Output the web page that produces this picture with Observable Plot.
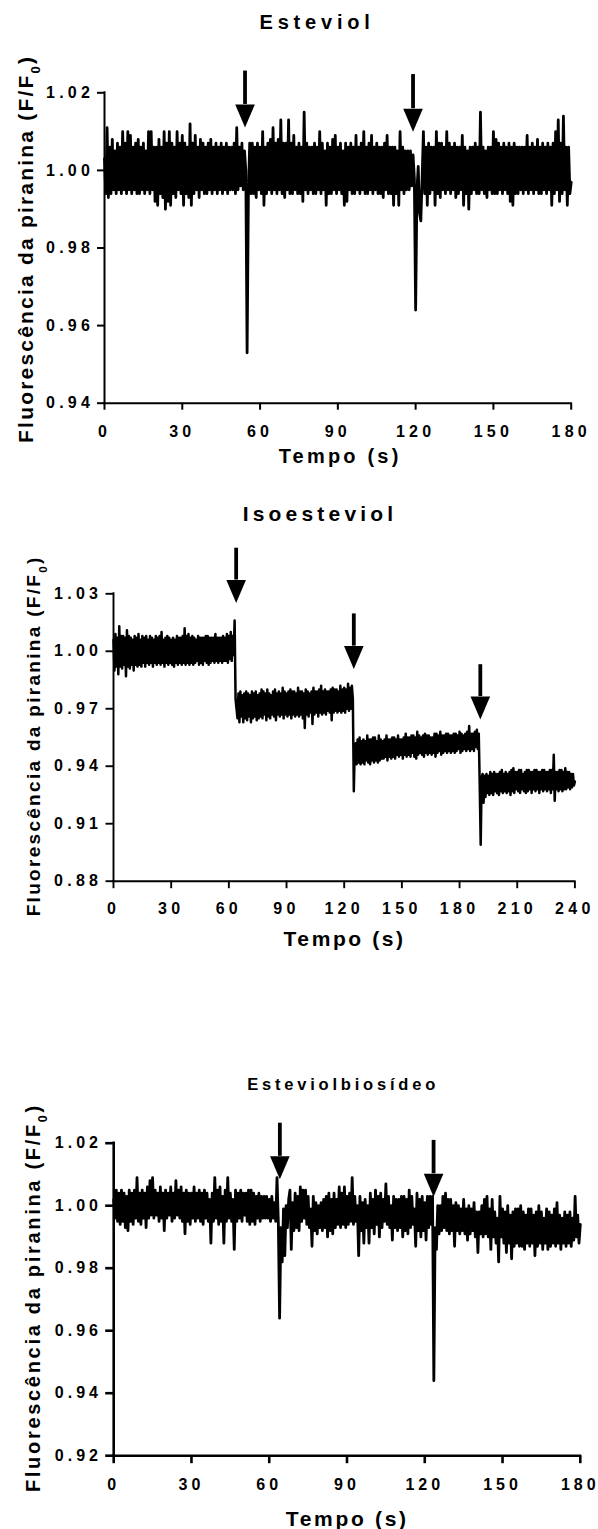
<!DOCTYPE html>
<html><head><meta charset="utf-8">
<script src="https://cdn.jsdelivr.net/npm/d3@7"></script>
<script src="https://cdn.jsdelivr.net/npm/@observablehq/plot@0.6"></script>
<style>
body{margin:0;background:#fff;}
svg{display:block;}
</style></head><body>
<script>
// ---------- Panel 1: Esteviol (0.5-s samples) ----------
const esteviolTime = d3.range(0, 361).map(k => k / 2);
const esteviolValue = [
1.003,0.994,1.011,0.993,1.006,0.994,1.008,0.995,1.005,0.994,1.007,0.995,1.006,0.994,1.010,0.995,1.007,0.994,1.010,0.995,
1.009,0.994,1.006,0.995,1.007,0.994,1.008,0.994,1.006,0.995,1.007,0.994,1.005,0.995,1.010,0.994,1.010,0.995,1.006,0.992,
1.006,0.991,1.008,0.994,1.006,0.993,1.010,0.990,1.007,0.992,1.010,0.991,1.007,0.994,1.006,0.993,1.010,0.995,1.007,0.994,
1.009,0.991,1.007,0.994,1.006,0.993,1.012,0.991,1.007,0.994,1.009,0.995,1.006,0.993,1.008,0.995,1.007,0.994,1.006,0.994,
1.007,0.995,1.008,0.994,1.006,0.995,1.007,0.994,1.006,0.995,1.007,0.994,1.006,0.995,1.007,0.994,1.006,0.995,1.006,0.995,
1.007,0.994,1.011,0.995,1.006,0.996,1.007,0.995,1.005,1.000,0.953,0.994,1.007,0.994,1.007,0.994,1.006,0.993,1.007,0.995,
1.006,0.994,1.010,0.991,1.006,0.994,1.007,0.995,1.008,0.994,1.011,0.995,1.007,0.994,1.008,0.995,1.013,0.994,1.007,0.993,
1.007,0.995,1.013,0.994,1.007,0.994,1.009,0.995,1.006,0.994,1.007,0.994,1.006,0.992,1.015,0.995,1.007,0.994,1.006,0.995,
1.006,0.994,1.007,0.994,1.006,0.995,1.010,0.994,1.007,0.995,1.005,0.991,1.007,0.994,1.006,0.994,1.008,0.995,1.009,0.994,
1.006,0.995,1.007,0.994,1.005,0.991,1.007,0.992,1.006,0.995,1.007,0.994,1.006,0.994,1.009,0.995,1.006,0.994,1.007,0.995,
1.010,0.994,1.006,0.994,1.007,0.995,1.009,0.994,1.006,0.995,1.007,0.994,1.006,0.994,1.006,0.993,1.007,0.995,1.009,0.994,
1.006,0.994,1.006,0.991,1.006,0.994,1.005,0.991,1.010,0.995,1.006,0.994,1.005,0.995,1.005,0.995,1.005,0.996,1.004,0.998,
0.964,0.995,1.001,0.989,0.987,0.998,1.010,0.994,1.006,0.991,1.007,0.994,1.006,0.995,1.006,0.991,1.010,0.994,1.007,0.993,
1.007,0.995,1.006,0.994,1.010,0.995,1.007,0.994,1.006,0.995,1.007,0.993,1.006,0.994,1.006,0.995,1.009,0.991,1.006,0.994,
1.005,0.990,1.006,0.994,1.006,0.995,1.007,0.994,1.006,0.994,1.015,0.995,1.006,0.994,1.005,0.993,1.006,0.995,1.006,0.994,
1.010,0.994,1.008,0.994,1.007,0.995,1.006,0.994,1.007,0.995,1.006,0.994,1.007,0.992,1.006,0.991,1.007,0.994,1.006,0.994,
1.006,0.995,1.006,0.994,1.006,0.995,1.009,0.994,1.006,0.995,1.007,0.994,1.006,0.995,1.008,0.994,1.006,0.994,1.007,0.995,
1.006,0.994,1.007,0.995,1.006,0.991,1.007,0.994,1.010,0.995,1.013,0.992,1.007,0.994,1.014,0.995,1.006,0.991,1.006,0.994,
0.997];
const esteviolArrowTime = [54.2, 119.0];
const esteviolArrowTop = [1.0256, 1.0247];
const esteviolArrowBase = [1.0170, 1.0159];
const esteviolXTicks = [0, 30, 60, 90, 120, 150, 180];
const esteviolYTicks = [0.94, 0.96, 0.98, 1.00, 1.02];
const esteviolYLabels = ["0.94", "0.96", "0.98", "1.00", "1.02"];

// ---------- Panel 2: Isoesteviol (0.5-s samples) ----------
const isoTime = d3.range(0, 481).map(k => k / 2);
const isoValue = [
1.006,0.990,1.009,0.992,1.007,0.988,1.013,0.992,1.008,0.991,1.008,0.993,1.007,0.987,1.011,0.992,1.008,0.991,1.007,0.993,
1.006,0.990,1.008,0.993,1.007,0.992,1.009,0.993,1.006,0.992,1.008,0.994,1.007,0.992,1.008,0.994,1.006,0.993,1.008,0.994,
1.007,0.992,1.006,0.994,1.008,0.993,1.007,0.994,1.008,0.993,1.010,0.994,1.006,0.992,1.007,0.994,1.008,0.993,1.007,0.994,
1.006,0.993,1.007,0.992,1.006,0.994,1.008,0.993,1.007,0.994,1.007,0.993,1.008,0.994,1.012,0.993,1.008,0.994,1.009,0.993,
1.007,0.994,1.008,0.993,1.007,0.994,1.006,0.995,1.008,0.993,1.007,0.994,1.007,0.993,1.007,0.995,1.008,0.994,1.008,0.993,
1.007,0.994,1.007,0.995,1.007,0.994,1.009,0.995,1.007,0.994,1.007,0.995,1.007,0.994,1.008,0.995,1.007,0.995,1.009,0.994,
1.008,0.996,1.010,0.995,1.008,0.998,1.016,0.975,0.970,0.965,0.978,0.963,0.979,0.966,0.977,0.963,0.978,0.965,0.979,0.964,
0.978,0.966,0.977,0.963,0.979,0.965,0.978,0.966,0.979,0.964,0.977,0.965,0.978,0.966,0.980,0.965,0.979,0.967,0.978,0.964,
0.980,0.966,0.978,0.965,0.977,0.967,0.979,0.966,0.980,0.964,0.978,0.967,0.979,0.966,0.978,0.967,0.981,0.965,0.979,0.967,
0.978,0.966,0.979,0.967,0.980,0.965,0.979,0.967,0.979,0.966,0.978,0.967,0.981,0.966,0.979,0.967,0.979,0.965,0.978,0.960,
0.980,0.967,0.979,0.966,0.978,0.968,0.979,0.962,0.981,0.967,0.979,0.968,0.979,0.966,0.980,0.968,0.982,0.967,0.979,0.968,
0.980,0.967,0.979,0.969,0.979,0.968,0.980,0.964,0.981,0.968,0.980,0.969,0.980,0.968,0.979,0.969,0.982,0.968,0.980,0.969,
0.981,0.968,0.980,0.970,0.983,0.969,0.981,0.970,0.982,0.975,0.927,0.950,0.952,0.941,0.954,0.942,0.955,0.941,0.953,0.942,
0.954,0.941,0.953,0.943,0.956,0.942,0.954,0.941,0.954,0.943,0.955,0.942,0.955,0.943,0.953,0.942,0.956,0.943,0.954,0.944,
0.953,0.944,0.954,0.945,0.956,0.943,0.954,0.945,0.954,0.944,0.955,0.945,0.955,0.944,0.954,0.946,0.956,0.945,0.954,0.946,
0.954,0.944,0.955,0.946,0.957,0.945,0.955,0.946,0.955,0.945,0.956,0.947,0.956,0.945,0.955,0.944,0.958,0.946,0.956,0.947,
0.955,0.946,0.956,0.945,0.957,0.947,0.956,0.946,0.956,0.947,0.955,0.946,0.955,0.947,0.957,0.945,0.957,0.947,0.956,0.948,
0.958,0.946,0.956,0.947,0.956,0.948,0.957,0.947,0.957,0.948,0.956,0.947,0.956,0.948,0.957,0.947,0.957,0.948,0.956,0.949,
0.958,0.947,0.957,0.948,0.956,0.949,0.957,0.948,0.958,0.949,0.961,0.948,0.957,0.949,0.957,0.948,0.958,0.950,0.959,0.949,
0.957,0.930,0.899,0.934,0.936,0.921,0.935,0.924,0.936,0.926,0.935,0.925,0.937,0.926,0.936,0.925,0.937,0.927,0.936,0.926,
0.936,0.925,0.937,0.927,0.938,0.926,0.936,0.927,0.937,0.926,0.936,0.927,0.937,0.925,0.938,0.927,0.939,0.926,0.937,0.928,
0.937,0.927,0.938,0.926,0.938,0.928,0.936,0.927,0.937,0.926,0.938,0.927,0.938,0.928,0.937,0.926,0.937,0.928,0.938,0.927,
0.938,0.928,0.937,0.926,0.937,0.928,0.938,0.927,0.938,0.928,0.937,0.927,0.937,0.928,0.938,0.926,0.938,0.928,0.946,0.922,
0.937,0.928,0.937,0.927,0.938,0.928,0.938,0.927,0.937,0.928,0.939,0.928,0.937,0.929,0.937,0.928,0.936,0.929,0.936,0.930,
0.932];
const isoArrowTime = [63.8, 125.0, 190.8];
const isoArrowTop = [1.0538, 1.0195, 0.9930];
const isoArrowBase = [1.0372, 1.0027, 0.9764];
const isoXTicks = [0, 30, 60, 90, 120, 150, 180, 210, 240];
const isoYTicks = [0.88, 0.91, 0.94, 0.97, 1.00, 1.03];
const isoYLabels = ["0.88", "0.91", "0.94", "0.97", "1.00", "1.03"];

// ---------- Panel 3: Esteviolbiosídeo (0.5-s samples) ----------
const biosTime = d3.range(0, 361).map(k => k / 2);
const biosValue = [
1.002,0.996,1.005,0.995,1.004,0.994,1.005,0.995,1.004,0.993,1.003,0.992,1.005,0.995,1.004,0.994,1.005,0.996,1.009,0.995,
1.004,0.994,1.005,0.996,1.004,0.993,1.006,0.996,1.008,0.997,1.009,0.996,1.005,0.997,1.004,0.995,1.006,0.996,1.004,0.992,
1.005,0.996,1.004,0.997,1.006,0.995,1.004,0.996,1.008,0.997,1.005,0.996,1.006,0.995,1.004,0.991,1.005,0.995,1.004,0.994,
1.004,0.996,1.006,0.995,1.004,0.996,1.005,0.995,1.004,0.994,1.005,0.996,1.004,0.995,1.002,0.988,1.004,0.995,1.009,0.996,
1.005,0.994,1.006,0.995,1.003,0.988,1.005,0.995,1.009,0.996,1.004,0.995,1.002,0.986,1.005,0.995,1.004,0.996,1.005,0.995,
1.004,0.997,1.004,0.995,1.005,0.994,1.005,0.995,1.004,0.994,1.003,0.996,1.004,0.995,1.003,0.996,1.003,0.996,1.003,0.996,
1.002,0.995,1.003,0.996,1.001,0.995,1.009,0.995,0.964,0.993,0.982,0.999,0.984,1.000,0.993,1.002,1.005,0.986,1.001,0.992,
1.004,0.993,1.003,0.992,1.006,0.995,1.005,0.996,1.005,0.994,1.003,0.993,0.999,0.987,1.003,0.992,1.001,0.991,1.000,0.993,
1.001,0.992,1.002,0.993,1.003,0.990,1.004,0.992,1.002,0.991,1.004,0.993,1.002,0.994,1.006,0.993,1.004,0.994,1.006,0.993,
1.003,0.994,1.004,0.995,1.009,0.994,1.003,0.995,1.000,0.984,1.003,0.992,1.001,0.988,1.002,0.993,1.000,0.988,1.004,0.993,
1.002,0.991,1.005,0.994,1.003,0.990,1.004,0.993,1.002,0.995,1.007,0.994,1.003,0.993,1.000,0.989,1.003,0.993,1.002,0.992,
1.002,0.993,1.003,0.990,1.003,0.992,1.002,0.991,1.005,0.993,1.003,0.994,0.999,0.987,1.004,0.992,1.002,0.990,1.003,0.992,
1.001,0.989,1.003,0.993,1.003,0.994,1.003,0.944,0.993,0.986,1.000,0.991,1.000,0.992,1.003,0.993,1.004,0.992,1.002,0.991,
1.002,0.992,1.000,0.987,1.001,0.992,1.000,0.991,0.999,0.992,1.002,0.991,0.999,0.989,1.000,0.991,0.999,0.992,1.001,0.990,
0.998,0.985,0.998,0.991,1.000,0.990,1.002,0.991,1.003,0.990,0.999,0.986,1.002,0.990,0.998,0.988,0.996,0.982,1.003,0.990,
0.999,0.988,0.998,0.985,1.000,0.988,0.997,0.983,0.998,0.987,0.999,0.988,0.999,0.987,1.000,0.987,0.998,0.986,0.997,0.988,
0.999,0.987,0.999,0.988,0.997,0.984,0.998,0.987,1.000,0.988,0.998,0.986,0.996,0.988,0.999,0.986,0.998,0.987,0.997,0.988,
0.999,0.987,1.001,0.988,0.997,0.986,0.996,0.988,0.998,0.987,0.997,0.988,0.998,0.987,0.996,0.989,1.003,0.990,0.997,0.988,
0.994];
const biosArrowTime = [64.1, 123.4];
const biosArrowTop = [1.0264, 1.0209];
const biosArrowBase = [1.0158, 1.0102];
const biosXTicks = [0, 30, 60, 90, 120, 150, 180];
const biosYTicks = [0.92, 0.94, 0.96, 0.98, 1.00, 1.02];
const biosYLabels = ["0.92", "0.94", "0.96", "0.98", "1.00", "1.02"];

const titles = ["Esteviol", "Isoesteviol", "Esteviolbiosídeo"];
const xTitle = "Tempo (s)";
const yTitleMain = "Fluorescência da piranina (F/F";
const yTitleSub = "0";
const yTitleEnd = ")";

const FONT = "'Liberation Sans', Arial, Helvetica, sans-serif";
// downward arrow head (base at the anchor point, tip below)
const arrowHead = {draw(ctx) { ctx.moveTo(-9.8, 0); ctx.lineTo(9.8, 0); ctx.lineTo(0, 23); ctx.closePath(); }};

function panel(o) {
  const rows = o.time.map((t, i) => ({t, v: o.value[i]}));
  const arrows = o.arrowTime.map((t, i) => ({t, top: o.arrowTop[i], base: o.arrowBase[i]}));
  const xd = [o.xTicks[0], o.xTicks[o.xTicks.length - 1]];
  const yd = [o.yTicks[0], o.yTicks[o.yTicks.length - 1]];
  const svg = Plot.plot({
    width: 598, height: o.height,
    marginTop: o.mt, marginBottom: o.mb, marginLeft: o.ml, marginRight: o.mr,
    style: {fontFamily: FONT, fontWeight: "bold", color: "#000", background: "#fff", overflow: "visible"},
    x: {domain: xd},
    y: {domain: yd},
    marks: [
      Plot.lineY(rows, {x: "t", y: "v", stroke: "#000", strokeWidth: o.lineW, strokeLinejoin: "round"}),
      Plot.ruleX(arrows, {x: "t", y1: "top", y2: "base", stroke: "#000", strokeWidth: 3.8}),
      Plot.dot(arrows, {x: "t", y: "base", symbol: arrowHead, fill: "#000", stroke: "none", r: 10}),
      Plot.ruleX([xd[0]], {stroke: "#000", strokeWidth: o.axisW, strokeLinecap: "square"}),
      Plot.ruleY([yd[0]], {stroke: "#000", strokeWidth: o.axisW, strokeLinecap: "square"}),
      Plot.axisX({ticks: o.xTicks, tickFormat: d => String(d), tickSize: o.tickSize, tickPadding: o.xPad,
        fontSize: o.tickFs, strokeWidth: o.axisW, label: null}),
      Plot.axisY({ticks: o.yTicks, tickFormat: d => o.yLabels[o.yTicks.indexOf(d)], tickSize: o.tickSize, tickPadding: o.yPad,
        fontSize: o.tickFs, strokeWidth: o.axisW, label: null})
    ]
  });
  const s = d3.select(svg);
  s.selectAll('g[aria-label="x-axis tick label"] text').attr("letter-spacing", o.tickLs);
  s.selectAll('g[aria-label="y-axis tick label"] text').attr("letter-spacing", o.tickLs);
  const txt = (str, x, y, fs, ls) => s.append("text").attr("x", x + ls / 2).attr("y", y)
    .attr("text-anchor", "middle").attr("font-size", fs).attr("letter-spacing", ls)
    .attr("font-weight", "bold").attr("font-family", FONT).attr("fill", "#000").text(str);
  txt(o.title, o.titleX, o.titleY, o.titleFs, o.titleLs);
  txt(xTitle, o.xlX, o.xlY, o.xlFs, o.xlLs);
  const yl = s.append("text").attr("transform", `translate(${o.ylX},${o.ylY}) rotate(-90)`)
    .attr("x", o.ylLs / 2).attr("text-anchor", "middle").attr("font-size", o.ylFs).attr("letter-spacing", o.ylLs)
    .attr("font-weight", "bold").attr("font-family", FONT).attr("fill", "#000");
  yl.append("tspan").text(yTitleMain);
  yl.append("tspan").attr("font-size", o.ylFs * 0.62).attr("dy", 7).text(yTitleSub);
  yl.append("tspan").attr("dy", -7).text(yTitleEnd);
  document.body.appendChild(svg);
}

panel({time: esteviolTime, value: esteviolValue, arrowTime: esteviolArrowTime, arrowTop: esteviolArrowTop, arrowBase: esteviolArrowBase,
  xTicks: esteviolXTicks, yTicks: esteviolYTicks, yLabels: esteviolYLabels,
  height: 480, mt: 92.3, mb: 77.3, ml: 104, mr: 27.3, lineW: 2.8, axisW: 2,
  tickSize: 7, xPad: 15.5, yPad: 3.5, tickFs: 16, tickLs: 4.2,
  title: titles[0], titleX: 314.7, titleY: 29.3, titleFs: 20, titleLs: 4.8,
  xlX: 338.5, xlY: 463.3, xlFs: 20, xlLs: 3.2,
  ylX: 32.8, ylY: 250, ylFs: 21, ylLs: 2.2});

panel({time: isoTime, value: isoValue, arrowTime: isoArrowTime, arrowTop: isoArrowTop, arrowBase: isoArrowBase,
  xTicks: isoXTicks, yTicks: isoYTicks, yLabels: isoYLabels,
  height: 570, mt: 113.3, mb: 169.3, ml: 113, mr: 23.6, lineW: 2.5, axisW: 1.9,
  tickSize: 7.5, xPad: 14.4, yPad: 3.7, tickFs: 16, tickLs: 4.3,
  title: titles[1], titleX: 317.9, titleY: 40.7, titleFs: 21, titleLs: 4.2,
  xlX: 343.3, xlY: 466, xlFs: 21, xlLs: 2.6,
  ylX: 39.7, ylY: 257, ylFs: 19, ylLs: 2.3});

panel({time: biosTime, value: biosValue, arrowTime: biosArrowTime, arrowTop: biosArrowTop, arrowBase: biosArrowBase,
  xTicks: biosXTicks, yTicks: biosYTicks, yLabels: biosYLabels,
  height: 479, mt: 92.7, mb: 73.8, ml: 113.2, mr: 18.2, lineW: 2.8, axisW: 2.6,
  tickSize: 8, xPad: 15.4, yPad: 3.7, tickFs: 16, tickLs: 4,
  title: titles[2], titleX: 341.2, titleY: 40, titleFs: 16.5, titleLs: 3.8,
  xlX: 345.9, xlY: 476, xlFs: 21, xlLs: 2.7,
  ylX: 39.5, ylY: 249, ylFs: 20, ylLs: 2.7});
</script>
</body></html>
